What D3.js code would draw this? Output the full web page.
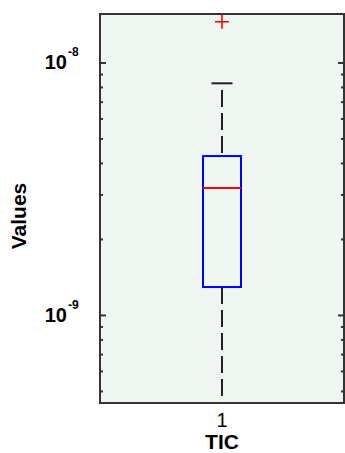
<!DOCTYPE html>
<html>
<head>
<meta charset="utf-8">
<script src="https://cdn.jsdelivr.net/npm/d3@7"></script>
<style>
  html, body { margin: 0; padding: 0; background: #ffffff; }
  svg { display: block; }
  text { font-family: "Liberation Sans", Arial, Helvetica, sans-serif; fill: #000; }
</style>
</head>
<body>
<svg id="chart" width="345" height="453"></svg>
<script>
// Box plot summary for the TIC group (log scale)
const categories = ["1"];
const lowerWhisker = [4.73e-10];
const q1 = [1.29e-9];
const median = [3.18e-9];
const q3 = [4.26e-9];
const upperWhisker = [8.27e-9];
const outliers = [[1.45e-8]];

const yDomain = [4.48e-10, 1.556e-8];
const majorTicks = [1e-9, 1e-8];
const majorExponents = ["-9", "-8"];
const minorTicks = [5e-10, 6e-10, 7e-10, 8e-10, 9e-10,
                    2e-9, 3e-9, 4e-9, 5e-9, 6e-9, 7e-9, 8e-9, 9e-9];

const svg = d3.select("#chart");
const plot = { left: 100, right: 344, top: 14, bottom: 403 };

const x = d3.scalePoint().domain(categories).range([plot.left, plot.right]).padding(0.5);
const y = d3.scaleLog().domain(yDomain).range([plot.bottom, plot.top]);

// plot background
svg.append("rect")
  .attr("x", plot.left).attr("y", plot.top)
  .attr("width", plot.right - plot.left).attr("height", plot.bottom - plot.top)
  .attr("fill", "#eff5f1");

const axisColor = "#333333";

// minor ticks, left and right
function styleAxis(g) {
  g.select(".domain").remove();
  g.selectAll(".tick line").attr("stroke", axisColor).attr("stroke-width", 2);
  g.selectAll(".tick text").remove();
}
svg.append("g").attr("transform", `translate(${plot.left},0)`)
  .call(d3.axisRight(y).tickValues(minorTicks).tickSize(3).tickFormat(""))
  .call(styleAxis);
svg.append("g").attr("transform", `translate(${plot.right},0)`)
  .call(d3.axisLeft(y).tickValues(minorTicks).tickSize(3).tickFormat(""))
  .call(styleAxis);
// major ticks
svg.append("g").attr("transform", `translate(${plot.left},0)`)
  .call(d3.axisRight(y).tickValues(majorTicks).tickSize(6).tickFormat(""))
  .call(styleAxis);
svg.append("g").attr("transform", `translate(${plot.right},0)`)
  .call(d3.axisLeft(y).tickValues(majorTicks).tickSize(6).tickFormat(""))
  .call(styleAxis);

// decade labels 10^n
const labels = svg.append("g");
majorTicks.forEach((v, i) => {
  labels.append("text")
    .attr("x", plot.left - 33)
    .attr("y", y(v) + 7)
    .attr("text-anchor", "end")
    .attr("font-size", 20)
    .attr("font-weight", "bold")
    .text("10");
  labels.append("text")
    .attr("x", plot.left - 32)
    .attr("y", y(v) - 6)
    .attr("font-size", 12)
    .attr("font-weight", "bold")
    .text(majorExponents[i]);
});

// frame
svg.append("rect")
  .attr("x", plot.left).attr("y", plot.top)
  .attr("width", plot.right - plot.left).attr("height", plot.bottom - plot.top)
  .attr("fill", "none").attr("stroke", axisColor).attr("stroke-width", 2);

// box elements
const boxW = 38, capW = 21;
const g = svg.append("g");
categories.forEach((c, i) => {
  const cx = x(c);
  // whiskers
  g.append("line")
    .attr("x1", cx).attr("x2", cx)
    .attr("y1", y(q3[i])).attr("y2", y(upperWhisker[i]))
    .attr("stroke", "#222").attr("stroke-width", 2)
    .attr("stroke-dasharray", "17,6").attr("stroke-dashoffset", -3);
  g.append("line")
    .attr("x1", cx).attr("x2", cx)
    .attr("y1", y(q1[i])).attr("y2", y(lowerWhisker[i]))
    .attr("stroke", "#222").attr("stroke-width", 2)
    .attr("stroke-dasharray", "17,6");
  // whisker caps
  g.append("line")
    .attr("x1", cx - capW / 2).attr("x2", cx + capW / 2)
    .attr("y1", y(upperWhisker[i])).attr("y2", y(upperWhisker[i]))
    .attr("stroke", "#222").attr("stroke-width", 2);
  // box
  g.append("rect")
    .attr("x", cx - boxW / 2).attr("y", y(q3[i]))
    .attr("width", boxW).attr("height", y(q1[i]) - y(q3[i]))
    .attr("fill", "none").attr("stroke", "#0000ff").attr("stroke-width", 2);
  // median
  g.append("line")
    .attr("x1", cx - boxW / 2).attr("x2", cx + boxW / 2)
    .attr("y1", y(median[i])).attr("y2", y(median[i]))
    .attr("stroke", "#ff0000").attr("stroke-width", 2);
  // outliers
  outliers[i].forEach(v => {
    const oy = y(v), s = 7;
    g.append("path")
      .attr("d", `M${cx - s},${oy}H${cx + s}M${cx},${oy - s}V${oy + s}`)
      .attr("stroke", "#ff0000").attr("stroke-width", 1.6).attr("fill", "none");
  });
});

// category tick labels
svg.append("g").selectAll("text").data(categories).join("text")
  .attr("x", d => x(d))
  .attr("y", 427)
  .attr("text-anchor", "middle")
  .attr("font-size", 20)
  .text(d => d);

// axis titles
svg.append("text")
  .attr("x", x(categories[0]))
  .attr("y", 449)
  .attr("text-anchor", "middle")
  .attr("font-size", 21)
  .attr("font-weight", "bold")
  .text("TIC");

svg.append("text")
  .attr("transform", "translate(26,216) rotate(-90)")
  .attr("text-anchor", "middle")
  .attr("font-size", 21)
  .attr("font-weight", "bold")
  .text("Values");
</script>
</body>
</html>
